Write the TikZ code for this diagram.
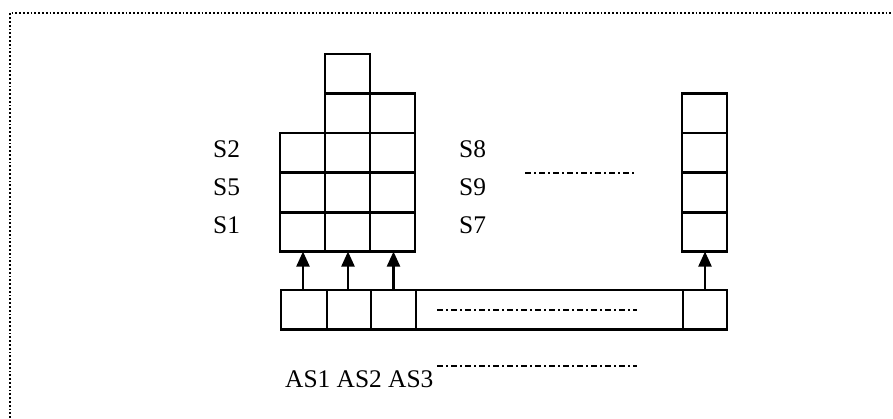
\documentclass[tikz,border=0pt]{standalone}
\usepackage{fontspec}
\setmainfont{Liberation Serif}
\usetikzlibrary{arrows.meta}
\begin{document}
\begin{tikzpicture}[x=1pt,y=-1pt,
  cell/.style={draw, line width=2.4pt, inner sep=0pt, outer sep=0pt, minimum width=45pt, minimum height=39.5pt, anchor=north west},
  lbl/.style={anchor=base west, inner sep=0pt, font=\fontsize{25.4}{30}\selectfont},
  dd/.style={line width=1.8pt, dash pattern=on 6pt off 3pt on 2pt off 3pt},
  up/.style={line width=2.2pt, -{Triangle[width=13pt,length=15pt]}},
  frame/.style={line width=1.8pt, dotted}]
\useasboundingbox (0,0) rectangle (893,418);
\draw[frame] (10,418) -- (10,13) -- (893,13);
% left stacks
\node[cell] (a1) at (280,212) {};
\node[cell] (a2) at (280,173) {};
\node[cell] (a3) at (280,133) {};
\node[cell] (b1) at (325,212) {};
\node[cell] (b2) at (325,173) {};
\node[cell] (b3) at (325,133) {};
\node[cell] (b4) at (325,93.5) {};
\node[cell] (b5) at (325,54) {};
\node[cell] (c1) at (370,212) {};
\node[cell] (c2) at (370,173) {};
\node[cell] (c3) at (370,133) {};
\node[cell] (c4) at (370,93.5) {};
% right stack
\node[cell] (d1) at (682,212) {};
\node[cell] (d2) at (682,173) {};
\node[cell] (d3) at (682,133) {};
\node[cell] (d4) at (682,93.5) {};
% bottom array
\node[cell, minimum width=46pt] (e1) at (281,290) {};
\node[cell, minimum width=44pt] (e2) at (327,290) {};
\node[cell, minimum width=45pt] (e3) at (371,290) {};
\node[cell, minimum width=267pt] (e4) at (416,290) {};
\node[cell, minimum width=44pt] (e5) at (683,290) {};
% arrows
\draw[up] (e1.north) ++(-1,0) coordinate (p1) -- (p1 |- a1.south);
\draw[up] (e2.north) ++(-1,0) coordinate (p2) -- (p2 |- b1.south);
\draw[up] (e3.north) ++(0,0) coordinate (p3) -- (p3 |- c1.south);
\draw[up] (e5.north) ++(0,0) coordinate (p5) -- (p5 |- d1.south);
% dash-dot lines
\coordinate (q1) at (437,310); \coordinate (q2) at (637,310);
\draw[dd] (q1) -- (q2);
\coordinate (q3) at (525,173); \coordinate (q4) at (635,173);
\draw[dd] (q3) -- (q4);
\coordinate (q5) at (437,366); \coordinate (q6) at (637,366);
\draw[dd] (q5) -- (q6);
% labels
\node[lbl] (s2) at (213,157) {S2};
\node[lbl] (s5) at (213,195) {S5};
\node[lbl] (s1) at (213,233) {S1};
\node[lbl] (s8) at (459,157) {S8};
\node[lbl] (s9) at (459,195) {S9};
\node[lbl] (s7) at (459,233) {S7};
\node[lbl] (as) at (285,387) {AS1 AS2 AS3};
\end{tikzpicture}
\end{document}
